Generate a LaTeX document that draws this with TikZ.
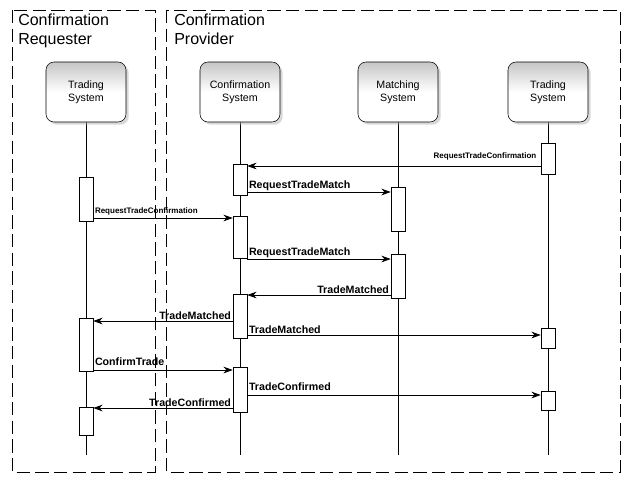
\documentclass[tikz,border=0pt]{standalone}
\usepackage{fontspec}
\setmainfont{Liberation Sans}
\usetikzlibrary{arrows.meta,shadows}

\tikzset{
  frame/.style={draw,dash pattern=on 10pt off 4pt,line width=0.6pt},
  head/.style={draw,rounded corners=6pt,minimum width=60pt,minimum height=45pt,
    top color=gray!45,bottom color=white,middle color=white,
    drop shadow={shadow xshift=2pt,shadow yshift=-2pt,fill=gray!60},
    align=center,font=\footnotesize},
  act/.style={draw,fill=white,minimum width=10.5pt,inner sep=0pt},
  msg/.style={-{Stealth[length=7pt,width=5pt]},line width=0.6pt},
  lbl/.style={font=\fontsize{8}{9}\selectfont\bfseries,inner sep=1pt},
  tiny/.style={font=\fontsize{6}{7}\selectfont\bfseries,inner sep=1pt}
}

\begin{document}
\begin{tikzpicture}[x=0.75pt,y=0.75pt,yscale=-1,xscale=1]
\useasboundingbox (0,0) rectangle (630,480);

% frames
\draw[frame] (12,10) rectangle (155,472);
\draw[frame] (166,10) rectangle (620,472);
\node[anchor=north west,align=left,font=\large,inner sep=0pt] (req) at (18,14) {Confirmation\\Requester};
\node[anchor=north west,align=left,font=\large,inner sep=0pt] (prov) at (174,14) {Confirmation\\Provider};

% lifelines
\foreach \n/\x/\t in {tl/86/{Trading\\System},cs/240/{Confirmation\\System},ms/398/{Matching\\System},tr/548/{Trading\\System}}{
  \draw (\x,122) -- (\x,455);
  \node[head] (h\n) at (\x,92) {\t};
}

% activations
\node[act,minimum height=23pt] (cs1) at (240,179.5) {};
\node[act,minimum height=31.5pt] (cs2) at (240,237) {};
\node[act,minimum height=33pt] (cs3) at (240,316) {};
\node[act,minimum height=34pt] (cs4) at (240,389.5) {};
\node[act,minimum height=33pt] (tl1) at (86,199) {};
\node[act,minimum height=40pt] (tl2) at (86,344.5) {};
\node[act,minimum height=21pt] (tl3) at (86,421) {};
\node[act,minimum height=33pt] (ms1) at (398,209) {};
\node[act,minimum height=33pt] (ms2) at (398,276) {};
\node[act,minimum height=23pt] (tr1) at (548,158.5) {};
\node[act,minimum height=15pt] (tr2) at (548,338) {};
\node[act,minimum height=14pt] (tr3) at (548,400.5) {};

% message heights
\foreach \i/\y in {1/166,2/192,3/218,4/259,5/295,6/321,7/335,8/370,9/395,10/408}
  \coordinate (m\i) at (0,\y);

% messages
\draw[msg] (tr1.west|-m1) -- (cs1.east|-m1) node[tiny,pos=0,above left,xshift=-2pt,yshift=3pt] {RequestTradeConfirmation};
\draw[msg] (cs1.east|-m2) -- (ms1.west|-m2) node[lbl,pos=0,above right] {RequestTradeMatch};
\draw[msg] (tl1.east|-m3) -- (cs2.west|-m3) node[tiny,pos=0,above right,yshift=1pt] {RequestTradeConfirmation};
\draw[msg] (cs2.east|-m4) -- (ms2.west|-m4) node[lbl,pos=0,above right] {RequestTradeMatch};
\draw[msg] (ms2.west|-m5) -- (cs3.east|-m5) node[lbl,pos=0,above left] {TradeMatched};
\draw[msg] (cs3.west|-m6) -- (tl2.east|-m6) node[lbl,pos=0,above left] {TradeMatched};
\draw[msg] (cs3.east|-m7) -- (tr2.west|-m7) node[lbl,pos=0,above right] {TradeMatched};
\draw[msg] (tl2.east|-m8) -- (cs4.west|-m8) node[lbl,pos=0,above right,yshift=2pt] {ConfirmTrade};
\draw[msg] (cs4.east|-m9) -- (tr3.west|-m9) node[lbl,pos=0,above right,yshift=2pt] {TradeConfirmed};
\draw[msg] (cs4.west|-m10) -- (tl3.east|-m10) node[lbl,pos=0,above left] {TradeConfirmed};

\end{tikzpicture}
\end{document}
